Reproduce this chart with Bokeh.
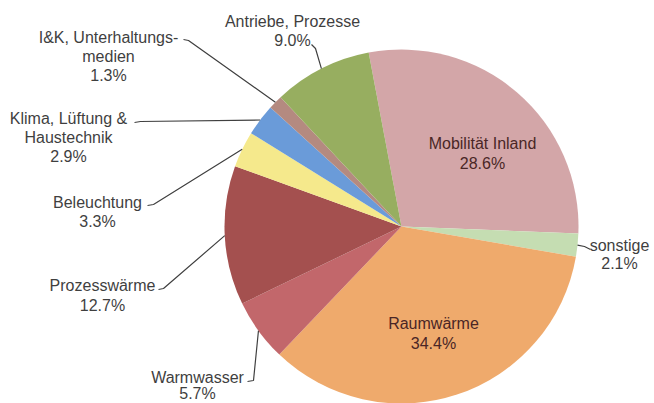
import math
from bokeh.plotting import figure
from bokeh.models import Range1d, ColumnDataSource
from bokeh.core.properties import value
from bokeh.embed import file_html
from bokeh.resources import INLINE

# ---- data ----
categories = ["Mobilität Inland", "sonstige", "Raumwärme", "Warmwasser",
              "Prozesswärme", "Beleuchtung", "Klima, Lüftung &\nHaustechnik",
              "I&K, Unterhaltungs-\nmedien", "Antriebe, Prozesse"]
shares = [28.6, 2.1, 34.4, 5.7, 12.7, 3.3, 2.9, 1.3, 9.0]
colors = ["#D3A6A8", "#C5DDB2", "#EFAA6C", "#C2676B", "#A4504F",
          "#F5E98C", "#6A9BD9", "#B48A80", "#97AE60"]

# ---- layout (page pixel coordinates) ----
W, H = 654, 403
CX, CY, R = 401, 226, 177
START = -10.7  # degrees clockwise from 12 o'clock

inside = [True, False, True, False, False, False, False, False, False]
label_xy = [(482, 153), (619, 254), (433, 333), (197, 385), (102, 295),
            (97, 211), (68, 137), (108, 56), (292, 30)]
line_gap = [20, 18, 20, 16, 20, 19, 19, 19, 19]
hooks = [None, [(590, 249), (584, 246)], None, [(247, 381), (253, 380)],
         [(158, 289), (163, 288)], [(147, 205), (153, 204)],
         [(134, 122), (140, 121)], [(183, 39), (188, 40)],
         [(311, 44), (315, 48)]]

def yu(y):  # page y -> data y (upwards)
    return H - y

p = figure(width=W, height=H, output_backend="svg", toolbar_location=None,
           x_range=Range1d(0, W), y_range=Range1d(0, H),
           min_border=0)
p.axis.visible = False
p.grid.visible = False
p.outline_line_color = None
p.background_fill_color = "white"
p.border_fill_color = "white"

total = sum(shares)
starts, ends, mids = [], [], []
a = START
for s in shares:
    span = s / total * 360.0
    starts.append(a)
    ends.append(a + span)
    mids.append(a + span / 2)
    a += span

src = ColumnDataSource(dict(
    x=[CX] * len(shares), y=[yu(CY)] * len(shares),
    sa=[math.radians(90 - e) for e in ends],
    ea=[math.radians(90 - s) for s in starts],
    color=colors))
p.wedge(x="x", y="y", radius=R, start_angle="sa", end_angle="ea",
        direction="anticlock", fill_color="color", line_color=None, source=src)

# leader lines
xs, ys = [], []
for i, h in enumerate(hooks):
    if h is None:
        continue
    th = math.radians(mids[i])
    px = CX + R * math.sin(th)
    py = CY - R * math.cos(th)
    pts = h + [(px, py)]
    xs.append([q[0] for q in pts])
    ys.append([yu(q[1]) for q in pts])
p.multi_line(xs=xs, ys=ys, line_color="#404040", line_width=1.2)

# labels
tx, ty, tt, tc = [], [], [], []
for i, cat in enumerate(categories):
    lines = cat.split("\n") + [f"{shares[i]:.1f}%"]
    cx, cy = label_xy[i]
    n = len(lines)
    for k, ln in enumerate(lines):
        tx.append(cx)
        ty.append(yu(cy + (k - (n - 1) / 2) * line_gap[i]))
        tt.append(ln)
        tc.append("#4A2626" if inside[i] else "#3F3F3F")
p.text(x=tx, y=ty, text=tt, text_color=tc, text_align="center",
       text_baseline="middle", text_font=value("Liberation Sans"),
       text_font_size="16px")

open("out.html", "w").write(file_html(p, INLINE))
